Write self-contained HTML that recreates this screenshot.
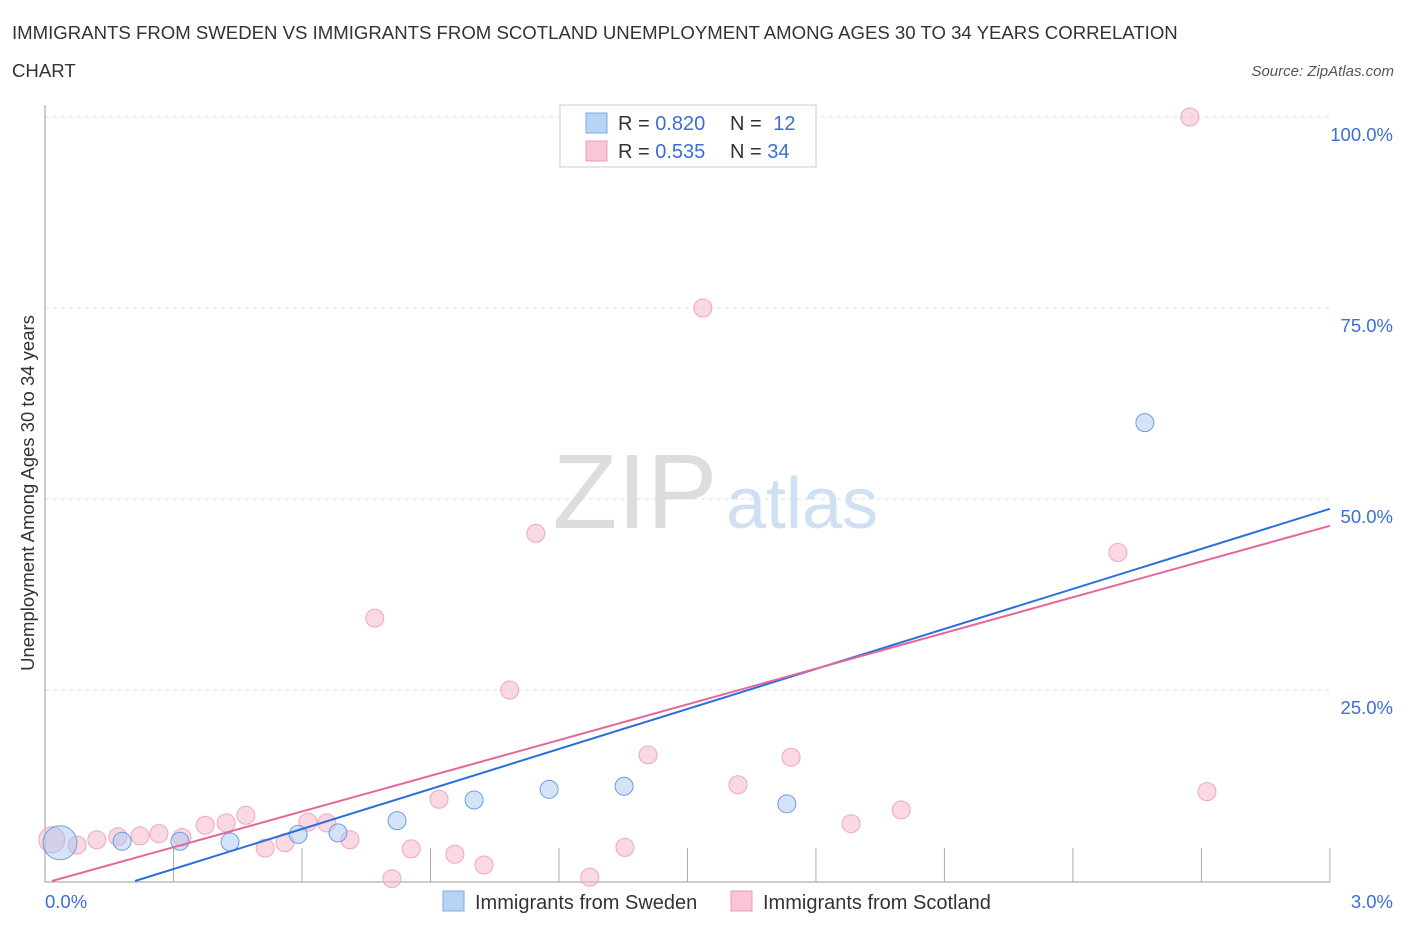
<!DOCTYPE html>
<html><head><meta charset="utf-8"><style>
body{margin:0;background:#fff;font-family:"Liberation Sans",sans-serif;}
svg text{font-family:"Liberation Sans",sans-serif;}
</style></head><body>
<svg id="chart" width="1406" height="930">
<text x="12" y="39" font-size="18.6" fill="#333">IMMIGRANTS FROM SWEDEN VS IMMIGRANTS FROM SCOTLAND UNEMPLOYMENT AMONG AGES 30 TO 34 YEARS CORRELATION</text>
<text x="12" y="77" font-size="18.6" fill="#333">CHART</text>
<text x="1394" y="76" font-size="15" fill="#555" font-style="italic" text-anchor="end">Source: ZipAtlas.com</text>
<text x="635" y="528" font-size="106" fill="#ddd" font-family="Liberation Serif" text-anchor="middle">ZIP</text>
<text x="802" y="528" font-size="72" fill="#cfe0f3" text-anchor="middle">atlas</text>
<g id="grid"></g><g id="marks"></g>
<text transform="translate(34,493) rotate(-90)" font-size="18.5" fill="#333" text-anchor="middle">Unemployment Among Ages 30 to 34 years</text>
<text x="45" y="908" font-size="18.5" fill="#3a6fd6">0.0%</text>
<text x="1393" y="908" font-size="18.5" fill="#3a6fd6" text-anchor="end">3.0%</text>
<g>
<rect x="560" y="105" width="256" height="62" fill="#fff" stroke="#ccc"/>
<rect x="586" y="113" width="21" height="20" fill="#b9d3f5" stroke="#7fa9e6"/>
<rect x="586" y="141" width="21" height="20" fill="#f9c6d5" stroke="#ee9bb5"/>
<text x="618" y="130" font-size="20" fill="#333">R = <tspan fill="#3a6fd6">0.820</tspan></text>
<text x="730" y="130" font-size="20" fill="#333">N = <tspan fill="#3a6fd6" dx="6">12</tspan></text>
<text x="618" y="158" font-size="20" fill="#333">R = <tspan fill="#3a6fd6">0.535</tspan></text>
<text x="730" y="158" font-size="20" fill="#333">N = <tspan fill="#3a6fd6">34</tspan></text>
</g>
<g>
<rect x="443" y="891" width="21" height="20" fill="#b9d3f5" stroke="#7fa9e6"/>
<text x="475" y="909" font-size="20" fill="#333">Immigrants from Sweden</text>
<rect x="731" y="891" width="21" height="20" fill="#f9c6d5" stroke="#ee9bb5"/>
<text x="763" y="909" font-size="20" fill="#333">Immigrants from Scotland</text>
</g>
</svg>
<script>
const yTicks=[25,50,75,100];
const yTickLabels=["25.0%","50.0%","75.0%","100.0%"];
const xTicks=[0.3,0.6,0.9,1.2,1.5,1.8,2.1,2.4,2.7,3.0];
const swedenX=[0.035,0.18,0.315,0.432,0.591,0.684,0.822,1.002,1.177,1.352,1.732,2.568];
const swedenY=[5.0,5.2,5.2,5.1,6.1,6.3,7.9,10.6,12.0,12.4,10.1,60.0];
const swedenR=[17,9,9,9,9,9,9,9,9,9,9,9];
const scotX=[0.016,0.075,0.121,0.17,0.222,0.266,0.32,0.374,0.423,0.469,0.514,0.56,0.614,0.658,0.712,0.77,0.81,0.855,0.92,0.957,1.025,1.085,1.146,1.272,1.354,1.408,1.536,1.618,1.742,1.882,1.999,2.505,2.673,2.713];
const scotY=[5.4,4.7,5.4,5.8,5.9,6.2,5.7,7.3,7.6,8.6,4.3,5.0,7.7,7.6,5.4,34.4,0.3,4.2,10.7,3.5,2.1,25.0,45.5,0.5,4.4,16.5,75.0,12.6,16.2,7.5,9.3,43.0,100,11.7];
const swedenTrend=[17.46,-3.67];
const scotTrend=[15.58,-0.25];
const X=v=>45+v*428.3, Y=v=>881-v*7.64;
const NS="http://www.w3.org/2000/svg";
const grid=document.getElementById('grid'), marks=document.getElementById('marks');
function mk(tag,attrs,parent){const e=document.createElementNS(NS,tag);for(const k in attrs)e.setAttribute(k,attrs[k]);parent.appendChild(e);return e;}
yTicks.forEach((t,i)=>{
 const l=mk('line',{x1:45,x2:1330,y1:Y(t),y2:Y(t),stroke:'#ddd','stroke-dasharray':'4,4'},grid);
 
 
 const tx=mk('text',{x:1393,y:Y(t)+24,'font-size':18.5,fill:'#3a6fd6','text-anchor':'end'},grid);
 tx.textContent=yTickLabels[i];
 
 
});
const ax=mk('line',{x1:45,x2:45,y1:105,y2:882,stroke:'#999'},grid);


const bx=mk('line',{x1:45,x2:1330,y1:882,y2:882,stroke:'#999'},grid);


xTicks.forEach(t=>{
 const l=mk('line',{x1:X(t),x2:X(t),y1:848,y2:882,stroke:'#aaa'},grid);
 
 
});
scotX.forEach((x,i)=>{
 const c=mk('circle',{cx:X(x),cy:Y(scotY[i]),r:i===0?13:9,fill:'rgba(248,180,200,0.5)',stroke:'#f0a6bd','stroke-width':1},marks);
 
 
});
swedenX.forEach((x,i)=>{
 const c=mk('circle',{cx:X(x),cy:Y(swedenY[i]),r:swedenR[i],fill:'rgba(170,200,240,0.5)',stroke:'#6f9de0','stroke-width':1},marks);
 
 
});
function trend(p,color,name){
 let x0=Math.max(0,-p[1]/p[0]);
 const l=mk('line',{x1:X(x0),y1:Y(p[0]*x0+p[1]),x2:X(3),y2:Y(p[0]*3+p[1]),stroke:color,'stroke-width':2},marks);
 
 
}
trend(swedenTrend,'#2a6fdb','sweden-trend-line');
trend(scotTrend,'#e5679a','scotland-trend-line');
</script>
</body></html>
